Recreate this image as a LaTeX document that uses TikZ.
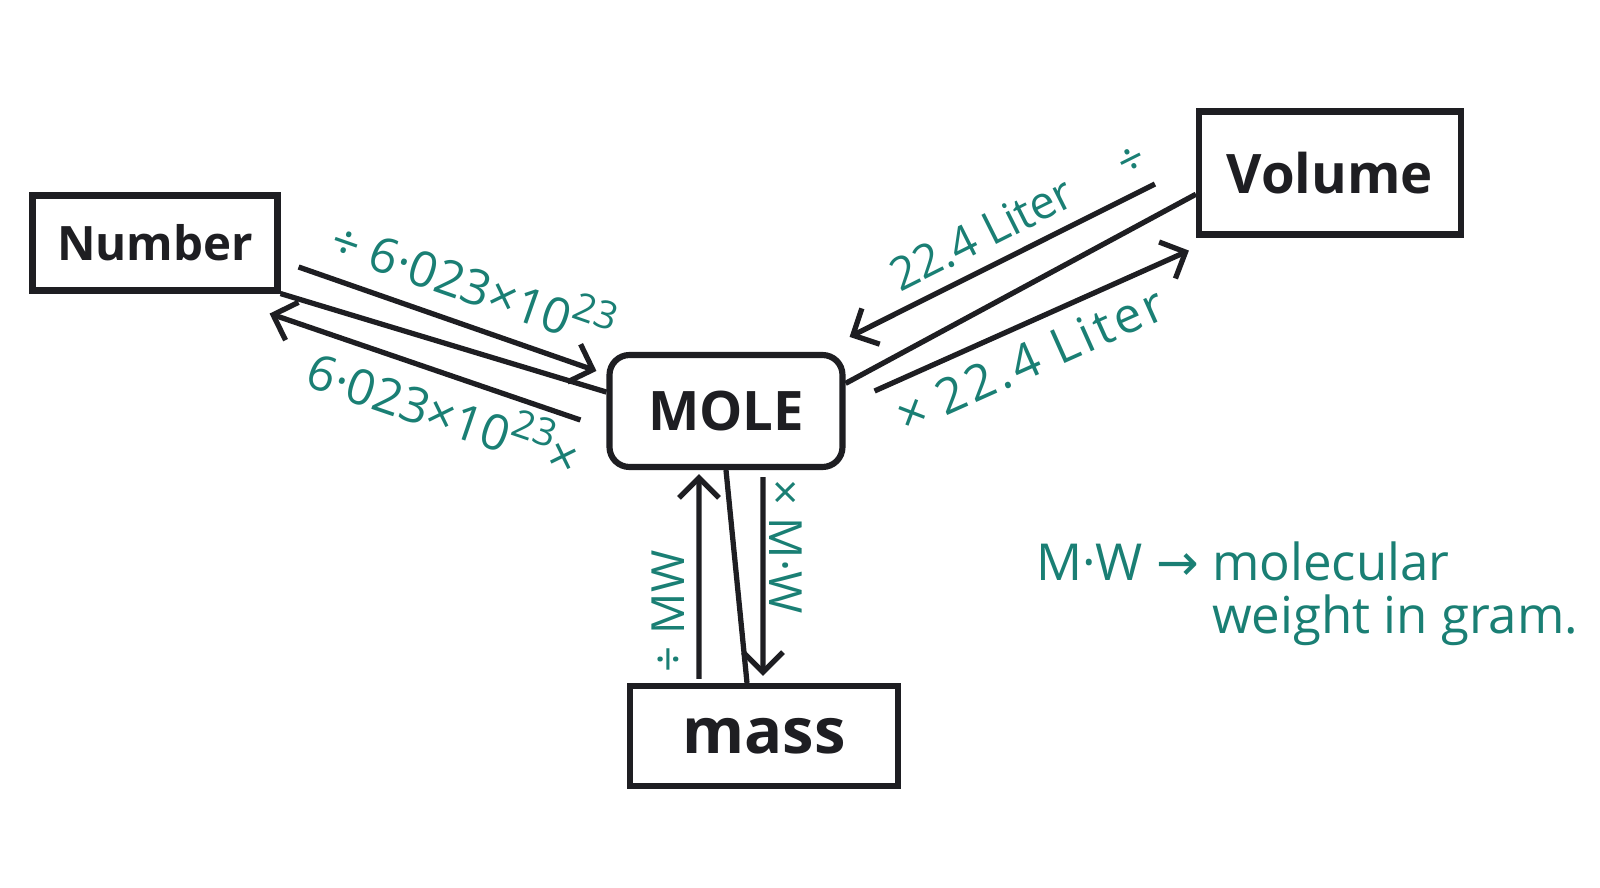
\documentclass[tikz,border=0pt]{standalone}
\usepackage{fontspec}
\setmainfont{Open Sans}
\newfontfamily\arrowfont{DejaVu Sans}
\usetikzlibrary{arrows.meta, calc}
\definecolor{ink}{HTML}{1A7F74}
\definecolor{pen}{HTML}{1E1E22}
\newcommand{\expo}[1]{\raisebox{0.42em}{\fontsize{22}{24}\selectfont #1}}

\begin{document}
\begin{tikzpicture}[
    box/.style={draw=pen, line width=3.5pt, rectangle, text=pen, font=\fontsize{27}{32}\selectfont\bfseries},
    molebox/.style={box, rounded corners=0.4cm},
    line/.style={draw=pen, line width=3pt},
    arr/.style={line, -{Straight Barb[length=4mm,width=8mm]}},
    lbl/.style={text=ink, inner sep=2pt, font=\fontsize{26}{30}\selectfont},
    biglbl/.style={lbl, font=\fontsize{28}{32}\selectfont},
    note/.style={text=ink, align=left, font=\fontsize{29}{30}\selectfont}
]

% rammen
\useasboundingbox (0,0) rectangle (32,17.74);

% kasser
\node[box, minimum width=4.9cm, minimum height=1.9cm] (number) at (3.10,12.88) {Number};
\node[box, minimum width=5.24cm, minimum height=2.46cm, font=\fontsize{31}{36}\selectfont\bfseries] (volume) at (26.60,14.28) {Volume};
\node[molebox, minimum width=4.66cm, minimum height=2.24cm, font=\fontsize{31}{36}\selectfont\bfseries] (mole) at (14.52,9.52) {MOLE};
\node[box, minimum width=5.36cm, minimum height=2.0cm, font=\fontsize{36}{40}\selectfont\bfseries] (mass) at (15.28,3.02) {mass};

% number - mole
\draw[line] (number.south east) -- (mole.171);
\draw[arr] ([xshift=0.36cm,yshift=-0.48cm]number.east) -- ([xshift=-0.2cm,yshift=-0.38cm]mole.north west)
    node[biglbl, sloped, pos=0.54, above=0.3cm] {÷ 6·023×10\expo{23}};
\draw[arr] ([xshift=-0.52cm,yshift=-0.18cm]mole.west) -- ([xshift=-0.22cm,yshift=-0.4cm]number.south east)
    node[biglbl, sloped, pos=0.4, below=0.05cm] {6·023×10\expo{23}×};

% volume - mole
\draw[line] (volume.189) -- (mole.13);
\draw[arr] ([xshift=-0.82cm,yshift=-0.22cm]volume.west) -- ([xshift=0.08cm,yshift=0.3cm]mole.north east)
    node[lbl, sloped, pos=0.4, above=0.2cm] {22.4 Liter\hspace{1.1cm}÷};
\draw[arr] ([xshift=0.58cm,yshift=0.4cm]mole.east) -- ([xshift=-0.14cm,yshift=-0.26cm]volume.south west)
    node[biglbl, sloped, pos=0.45, below=0.2cm] {\addfontfeatures{LetterSpace=8}×\hspace{0.3em}22.4 Liter};

% mass - mole
\draw[line] (mole.south) -- ([xshift=-0.34cm]mass.north);
\draw[arr] ([xshift=-1.3cm,yshift=0.08cm]mass.north) -- ([xshift=-0.54cm,yshift=-0.08cm]mole.south)
    node[lbl, pos=0.33, xshift=-0.62cm, rotate=90] {÷ MW};
\draw[arr] ([xshift=0.74cm,yshift=-0.14cm]mole.south) -- ([xshift=-0.02cm,yshift=0.14cm]mass.north)
    node[lbl, pos=0.35, xshift=0.46cm, rotate=-90] {× M·W};

% forklaring
\node[note, anchor=west] (mw) at (20.6,5.86)
{M·W {\arrowfont →} molecular\\
\phantom{M·W {\arrowfont →} }weight in gram.};

\end{tikzpicture}
\end{document}
